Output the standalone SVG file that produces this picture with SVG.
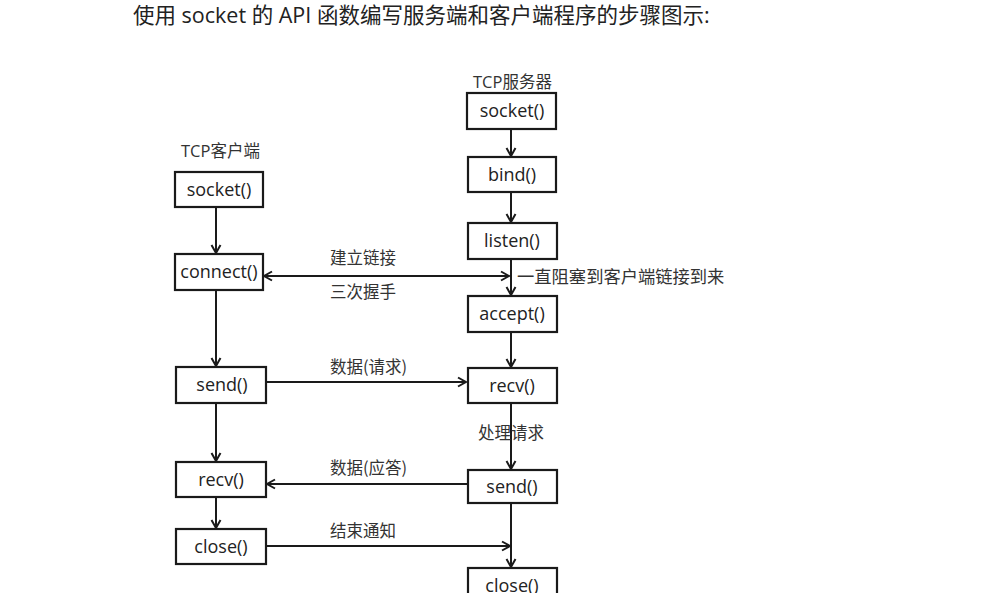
<svg xmlns="http://www.w3.org/2000/svg" width="993" height="593" viewBox="0 0 993 593">
<defs>
<marker id="arr" viewBox="-10 -6 12 12" refX="0" refY="0" markerWidth="12" markerHeight="12" markerUnits="userSpaceOnUse" orient="auto-start-reverse">
<path d="M-8,-4.5 L0,0 L-8,4.5" fill="none" stroke="#1a1a1a" stroke-width="2"/>
</marker>
<style>
.box{fill:#fff;stroke:#1a1a1a;stroke-width:2.2}
.bt{font-family:"Open Sans","Liberation Sans",sans-serif;font-size:18px;fill:#222;text-anchor:middle}
.lb{font-family:"Noto Sans CJK SC","Liberation Sans",sans-serif;font-size:16.5px;fill:#333}
.hd{font-family:"Open Sans","Noto Sans CJK SC",sans-serif;font-size:16.5px;fill:#333}
.ln{fill:none;stroke:#1a1a1a;stroke-width:2;marker-end:url(#arr)}
.title{font-family:"Open Sans","Noto Sans CJK SC",sans-serif;font-size:21.5px;fill:#222}
</style>
</defs>
<rect width="993" height="593" fill="#fff"/>
<text class="title" x="133" y="23" xml:space="preserve">使用 socket 的 API 函数编写服务端和客户端程序的步骤图示:</text>

<text class="hd" x="181" y="157">TCP客户端</text>
<text class="hd" x="473" y="88">TCP服务器</text>

<g id="connectors">
<path class="ln" d="M216,207 V253"/>
<path class="ln" d="M216,290 V366"/>
<path class="ln" d="M216,403 V461"/>
<path class="ln" d="M216,497 V528"/>
<path class="ln" d="M511,129 V156"/>
<path class="ln" d="M511,192 V222"/>
<path class="ln" d="M511,259 V295"/>
<path class="ln" d="M511,332 V367"/>
<path class="ln" d="M511,403 V469"/>
<path class="ln" d="M511,503 V567"/>
<path class="ln" d="M264,276 H509" style="marker-start:url(#arr)"/>
<path class="ln" d="M266,382 H466"/>
<path class="ln" d="M468,484 H267"/>
<path class="ln" d="M266,546 H510"/>
<text class="lb" x="330" y="264">建立链接</text>
<text class="lb" x="330" y="298">三次握手</text>
<text class="lb" x="330" y="373">数据(请求)</text>
<text class="lb" x="330" y="474">数据(应答)</text>
<text class="lb" x="330" y="537">结束通知</text>
<text class="lb" x="478" y="439">处理请求</text>
<text class="lb" x="517" y="283" style="font-size:17.3px">一直阻塞到客户端链接到来</text>
</g>

<g id="c-socket"><rect class="box" x="175" y="172" width="88" height="35"/><text class="bt" x="219" y="195.5">socket()</text></g>
<g id="c-connect"><rect class="box" x="175" y="254" width="88" height="36"/><text class="bt" x="219" y="278">connect()</text></g>
<g id="c-send"><rect class="box" x="176" y="367" width="90" height="36"/><text class="bt" x="222" y="391">send()</text></g>
<g id="c-recv"><rect class="box" x="176" y="462" width="90" height="35"/><text class="bt" x="221" y="485.5">recv()</text></g>
<g id="c-close"><rect class="box" x="176" y="529" width="90" height="35"/><text class="bt" x="221" y="552.5">close()</text></g>

<g id="s-socket"><rect class="box" x="467" y="93" width="89" height="36"/><text class="bt" x="512" y="117">socket()</text></g>
<g id="s-bind"><rect class="box" x="468" y="157" width="88" height="35"/><text class="bt" x="512" y="180.5">bind()</text></g>
<g id="s-listen"><rect class="box" x="468" y="223" width="89" height="36"/><text class="bt" x="512" y="247">listen()</text></g>
<g id="s-accept"><rect class="box" x="468" y="296" width="89" height="36"/><text class="bt" x="512" y="320">accept()</text></g>
<g id="s-recv"><rect class="box" x="468" y="368" width="89" height="35"/><text class="bt" x="512" y="391.5">recv()</text></g>
<g id="s-send"><rect class="box" x="468" y="470" width="89" height="33"/><text class="bt" x="512" y="492.5">send()</text></g>
<g id="s-close"><rect class="box" x="468" y="568" width="89" height="40"/><text class="bt" x="512" y="592">close()</text></g>
</svg>
